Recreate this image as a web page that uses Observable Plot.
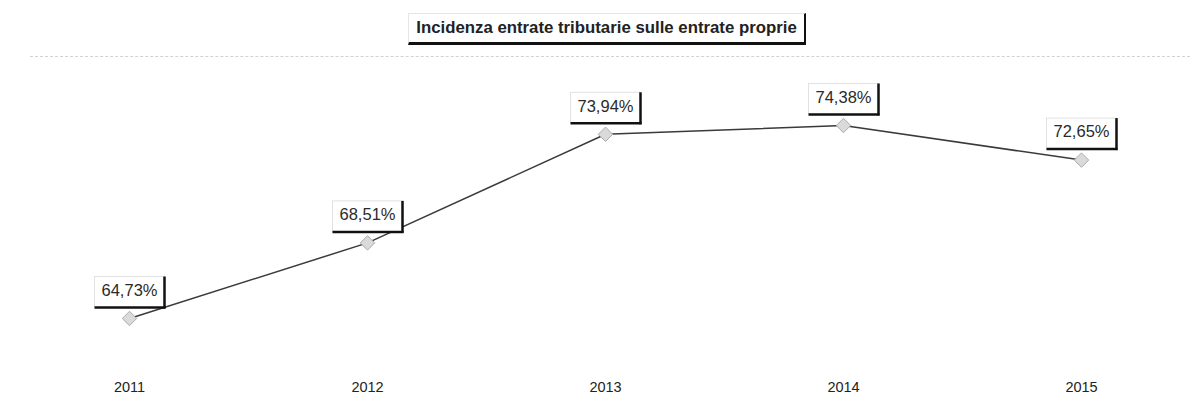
<!DOCTYPE html>
<html>
<head>
<meta charset="utf-8">
<script src="https://cdn.jsdelivr.net/npm/d3@7"></script>
<script src="https://cdn.jsdelivr.net/npm/@observablehq/plot@0.6"></script>
<style>
  body { margin: 0; background: #fff; font-family: "Liberation Sans", Arial, sans-serif; }
  #wrap { width: 1195px; height: 403px; position: relative; overflow: hidden; background: #fff; }
  #head { width: 1195px; height: 57px; position: relative; }
  #title {
    position: absolute; left: 408px; top: 13px; width: 395px; height: 28px;
    border-top: 1px solid #e6e6e6; border-left: 1px solid #e6e6e6;
    border-right: 2.5px solid #111; border-bottom: 3px solid #111;
    font-size: 16.8px; font-weight: bold; line-height: 28px; text-align: center; color: #222;
    box-sizing: content-box; white-space: nowrap;
  }
  #topline { position: absolute; left: 30px; top: 56px; width: 1160px; border-top: 1px dashed #d2d2d2; }
  #chart svg { display: block; }
</style>
</head>
<body>
<div id="wrap">
  <div id="head">
    <div id="title"></div>
    <div id="topline"></div>
  </div>
  <div id="chart"></div>
</div>
<script>
const title = "Incidenza entrate tributarie sulle entrate proprie";
const years = ["2011", "2012", "2013", "2014", "2015"];
const values = [64.73, 68.51, 73.94, 74.38, 72.65];
const labels = ["64,73%", "68,51%", "73,94%", "74,38%", "72,65%"];

document.getElementById("title").textContent = title;

const data = years.map((y, i) => ({year: y, value: values[i], label: labels[i]}));

const BOX_W = 70, BOX_TOP = 14, BOX_BOT = 17;

const chart = Plot.plot({
  width: 1195,
  height: 346,
  marginLeft: 128,
  marginRight: 113,
  marginTop: 35.6,
  marginBottom: 30.4,
  style: { fontFamily: "'Liberation Sans', Arial, sans-serif", fontSize: "14.5px", color: "#222", background: "#fff" },
  x: { type: "point", domain: years, padding: 0, tickSize: 0, tickPadding: 9, label: null },
  y: { domain: [62, 76], axis: null },
  marks: [
    Plot.line(data, { x: "year", y: "value", stroke: "#3a3a3a", strokeWidth: 1.5 }),
    Plot.dot(data, { x: "year", y: "value", symbol: "diamond2", r: 6.5, fill: "#dadada", stroke: "#ababab", strokeWidth: 1 }),
    Plot.text(data, {
      x: "year", y: "value", text: "label", dy: -28, fontSize: 16.5, fill: "#2a2a2a",
      render(index, scales, vals, dims, context, next) {
        const g = next(index, scales, vals, dims, context);
        const boxes = d3.create("svg:g");
        for (const i of index) {
          const cx = vals.x[i], cy = vals.y[i];
          boxes.append("rect")
            .attr("x", cx - BOX_W / 2).attr("y", cy - BOX_TOP)
            .attr("width", BOX_W).attr("height", BOX_TOP + BOX_BOT)
            .attr("fill", "#fff").attr("stroke", "#e2e2e2").attr("stroke-width", 1);
          boxes.append("line")
            .attr("x1", cx + BOX_W / 2).attr("x2", cx + BOX_W / 2)
            .attr("y1", cy - BOX_TOP).attr("y2", cy + BOX_BOT + 1)
            .attr("stroke", "#111").attr("stroke-width", 2.5);
          boxes.append("line")
            .attr("x1", cx - BOX_W / 2).attr("x2", cx + BOX_W / 2 + 1)
            .attr("y1", cy + BOX_BOT).attr("y2", cy + BOX_BOT)
            .attr("stroke", "#111").attr("stroke-width", 2.5);
        }
        g.insertBefore(boxes.node(), g.firstChild);
        return g;
      }
    })
  ]
});
document.getElementById("chart").appendChild(chart);
</script>
</body>
</html>
